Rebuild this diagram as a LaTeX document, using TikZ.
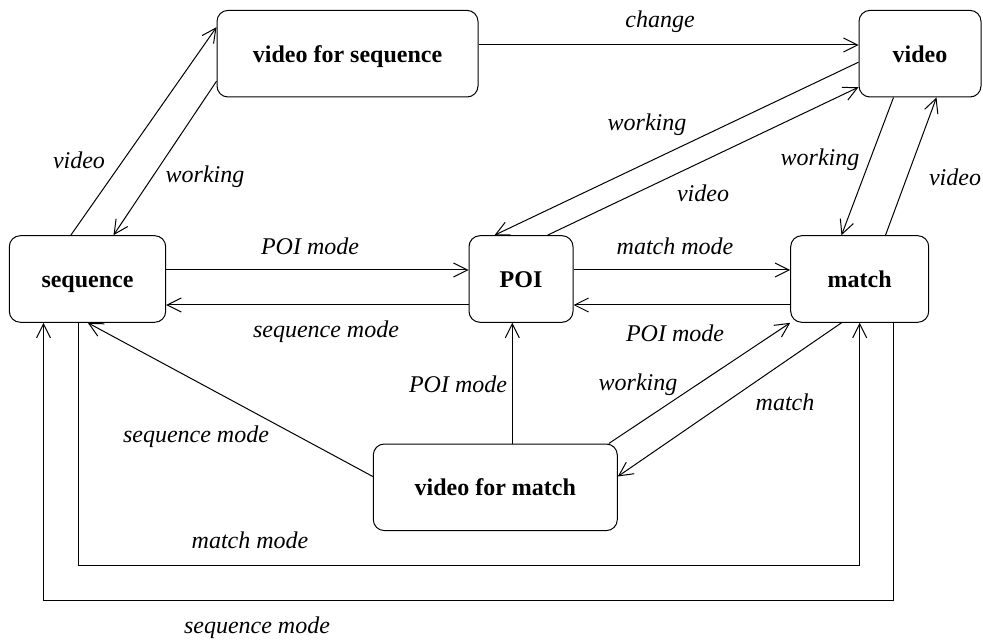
\documentclass[tikz,border=0pt]{standalone}
\usepackage{fontspec}
\setmainfont{LiberationSerif}[Extension=.ttf,UprightFont=*-Regular,BoldFont=*-Bold,ItalicFont=*-Italic,BoldItalicFont=*-BoldItalic]
\usetikzlibrary{arrows.meta,calc}
\begin{document}
\begin{tikzpicture}[x=1pt,y=-1pt,
  state/.style={draw,line width=1pt,rounded corners=11pt,inner sep=0pt,
    font=\fontsize{24}{28}\selectfont\bfseries,minimum height=86.6pt,
    text height=20pt,text depth=3pt},
  lbl/.style={inner sep=0pt,font=\fontsize{24}{28}\selectfont\itshape},
  conn/.style={line width=1pt,-{Straight Barb[length=14pt,width=14pt]}}]
\useasboundingbox (0,0) rectangle (983,644);
% states
\node[state,minimum width=261pt] (vfs) at (347.5,53.7) {video for sequence};
\node[state,minimum width=122pt] (video) at (920,53.7) {video};
\node[state,minimum width=156.4pt] (seq) at (87.5,279) {sequence};
\node[state,minimum width=104pt] (POI) at (521,279) {POI};
\node[state,minimum width=138pt] (match) at (859.7,279) {match};
\node[state,minimum width=244pt] (vfm) at (495.3,487.3) {video for match};
% connectors
\draw[conn] ($(seq.north west)+(62,0)$) -- ($(vfs.north west)+(0,17.3)$);
\draw[conn] ($(vfs.north west)+(0,71.3)$) -- ($(seq.north west)+(104.7,0)$);
\draw[conn] ($(vfs.east)+(0,-8.7)$) -- ($(video.west)+(0,-8.7)$);
\draw[conn] ($(video.north west)+(0,52.3)$) -- ($(POI.north west)+(26,0)$);
\draw[conn] ($(POI.north west)+(79,0)$) -- ($(video.north west)+(0,77.3)$);
\draw[conn] ($(video.south west)+(35,0)$) -- ($(match.north west)+(51.3,0)$);
\draw[conn] ($(match.north west)+(95.3,0)$) -- ($(video.south west)+(78,0)$);
\draw[conn] ($(seq.east)+(0,-9)$) -- ($(POI.west)+(0,-9)$);
\draw[conn] ($(POI.west)+(0,26)$) -- ($(seq.east)+(0,26)$);
\draw[conn] ($(POI.east)+(0,-9)$) -- ($(match.west)+(0,-9)$);
\draw[conn] ($(match.west)+(0,26)$) -- ($(POI.east)+(0,26)$);
\draw[conn] ($(vfm.north west)+(0,33)$) -- ($(seq.south west)+(79,0)$);
\coordinate (p) at ($(vfm.north west)+(139.5,0)$);
\draw[conn] (p) -- (p |- POI.south);
\draw[conn] ($(vfm.north east)+(-9,0)$) -- (match.south west);
\draw[conn] ($(match.south west)+(51.3,0)$) -- ($(vfm.north east)+(0,33)$);
\draw[conn] ($(seq.south west)+(69.7,0)$) -- ++(0,243) -| (match.south);
\draw[conn] ($(match.south west)+(103.3,0)$) -- ++(0,278) -| ($(seq.south west)+(34.7,0)$);
% labels
\node[lbl] (l1) at (79,160) {video};
\node[lbl] (l2) at (205,177) {working};
\node[lbl] (l3) at (310,246) {POI mode};
\node[lbl] (l4) at (326,332) {sequence mode};
\node[lbl] (l5) at (660,22) {change};
\node[lbl] (l6) at (647,125) {working};
\node[lbl] (l7) at (703,193) {video};
\node[lbl] (l8) at (820,160) {working};
\node[lbl] (l9) at (955,177) {video};
\node[lbl] (l10) at (675,246) {match mode};
\node[lbl] (l11) at (675,333) {POI mode};
\node[lbl] (l12) at (196,437) {sequence mode};
\node[lbl] (l13) at (458,384) {POI mode};
\node[lbl] (l14) at (638,385) {working};
\node[lbl] (l15) at (785,402) {match};
\node[lbl] (l16) at (250,540) {match mode};
\node[lbl] (l17) at (257,628) {sequence mode};
\end{tikzpicture}
\end{document}
